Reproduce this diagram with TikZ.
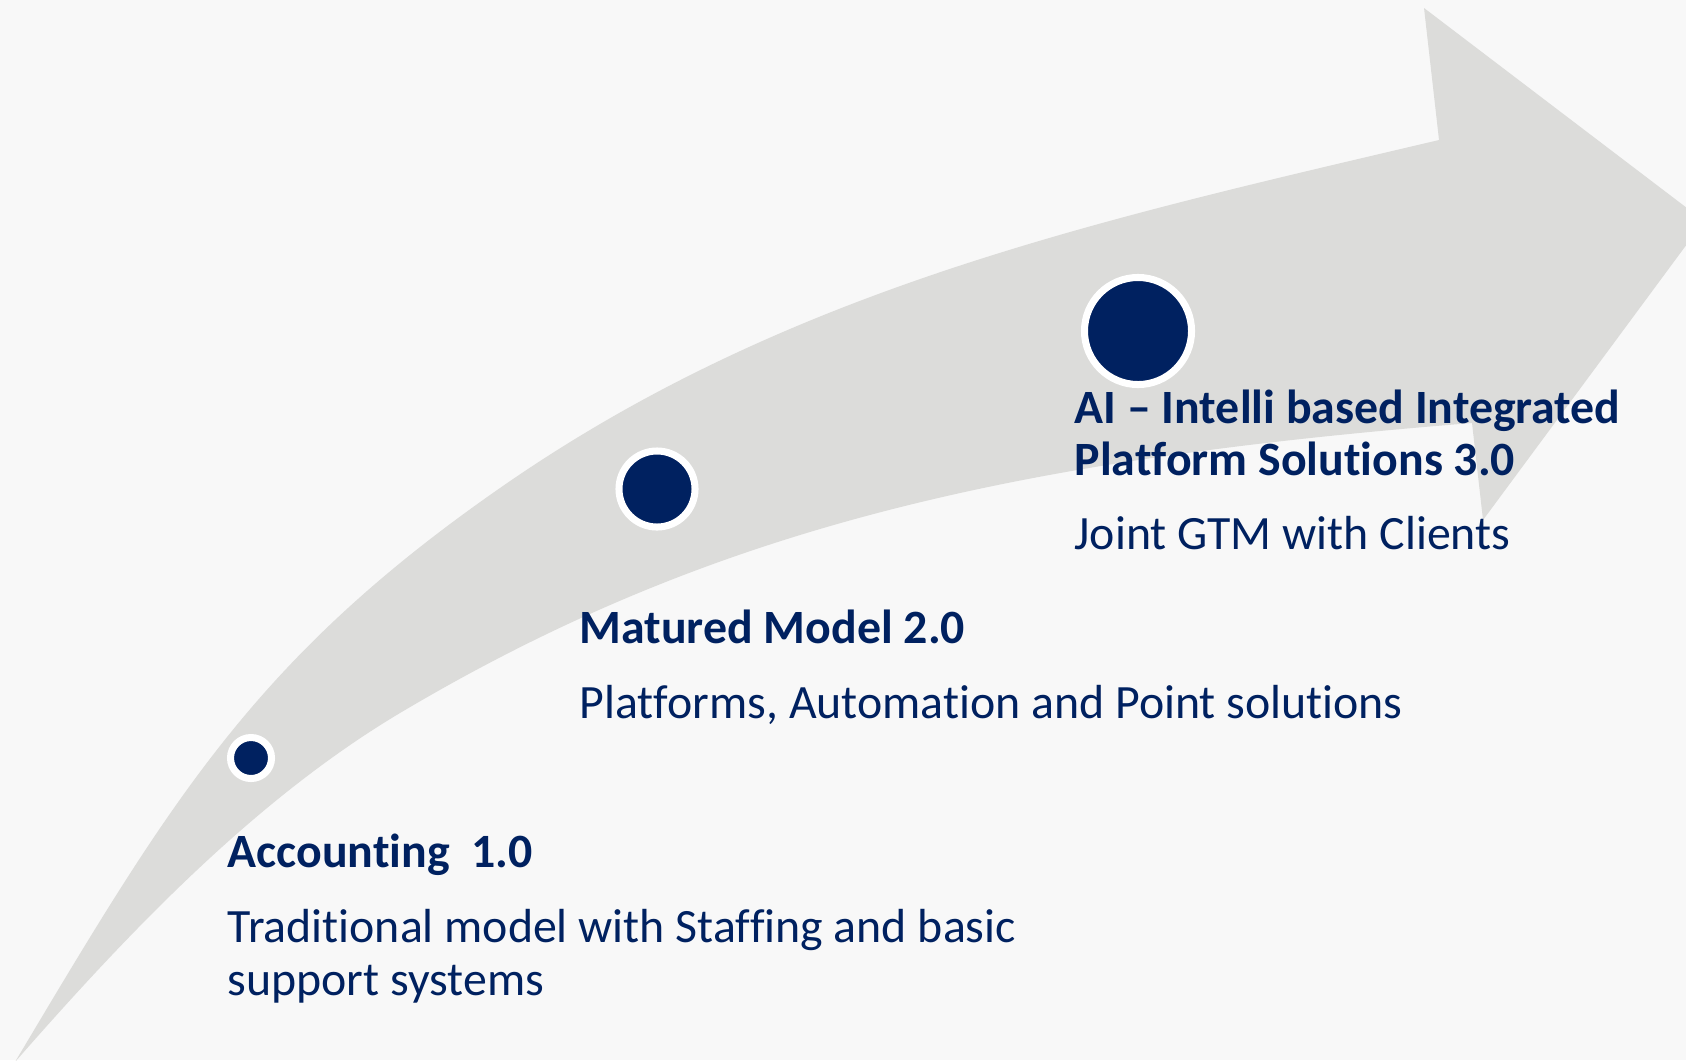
\documentclass[tikz,border=0pt]{standalone}
\usepackage{fontspec}
\setmainfont{Carlito}[Ligatures=NoCommon]
\definecolor{navy}{RGB}{0,33,96}
\definecolor{paper}{RGB}{248,248,248}
\definecolor{band}{RGB}{220,220,218}
\begin{document}
\begin{tikzpicture}[x=0.01cm, y=-0.01cm,
  dot/.style={circle, fill=navy, draw=white, line width=2pt, inner sep=0pt},
  headline/.style={anchor=base west, inner sep=0pt, text=navy, align=left,
    font=\fontsize{13.6}{14.7}\selectfont\bfseries},
  caption/.style={anchor=base west, inner sep=0pt, text=navy, align=left,
    font=\fontsize{13.6}{15}\selectfont}]
  % frame
  \useasboundingbox (0,0) rectangle (1686,1060);
  \fill[paper] (0,0) rectangle (1686,1060);
  \clip (0,0) rectangle (1686,1060);
  % curved arrow
  \fill[band] (15,1062) .. controls (170,802) and (254,659) .. (500,488)
    .. controls (787,288) and (1099,220) .. (1439,140)
    -- (1424,8) -- (1704,221) -- (1483,520) -- (1472,423)
    .. controls (1022,459) and (718,524) .. (400,713)
    .. controls (254,800) and (127,934) .. (15,1062) -- cycle;
  % milestones
  \node[dot, minimum size=0.41cm] (d1) at (251,758) {};
  \node[dot, minimum size=0.76cm] (d2) at (657,489) {};
  \node[dot, minimum size=1.07cm] (d3) at (1138,331) {};
  % labels (base = last line)
  \node[headline] (t1) at (227,867) {Accounting~~1.0};
  \node[caption]  (c1) at (227,995) {Traditional model with Staffing and basic\\support systems};
  \node[headline] (t2) at (579,643) {Matured Model 2.0};
  \node[caption]  (c2) at (579,718) {Platforms, Automation and Point solutions};
  \node[headline] (t3) at (1074,475) {AI -- Intelli based Integrated\\Platform Solutions 3.0};
  \node[caption]  (c3) at (1074,549) {Joint GTM with Clients};
\end{tikzpicture}
\end{document}
